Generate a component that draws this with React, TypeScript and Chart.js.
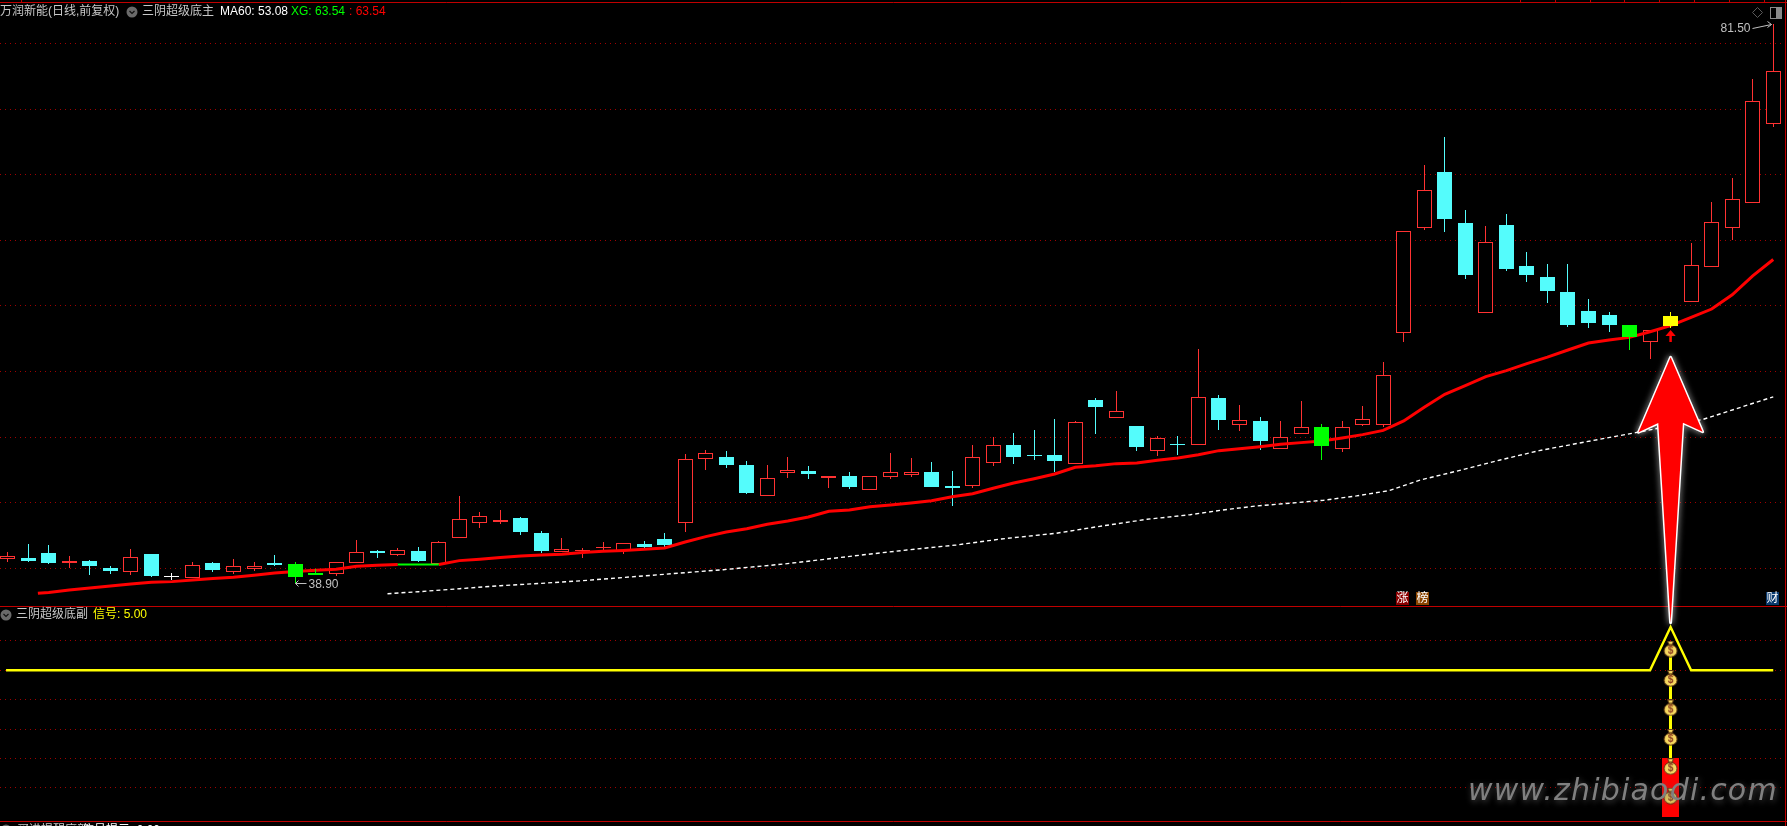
import React, { useEffect, useRef } from "react";
import { Chart, registerables } from "chart.js";

Chart.register(...registerables);

const opens = [40.75,40.80,41.18,40.44,40.57,40.04,39.76,41.10,39.43,39.30,40.42,39.76,39.99,40.42,40.34,39.66,39.61,40.44,41.33,41.05,41.33,40.34,42.35,43.49,43.57,43.85,42.70,41.26,41.31,41.58,41.33,41.87,42.25,43.49,48.32,48.50,47.89,45.55,47.30,47.43,46.92,47.05,46.01,47.00,47.15,47.35,46.29,46.31,48.06,49.41,48.65,48.65,47.99,52.84,51.49,50.86,48.98,49.46,49.43,52.99,50.96,51.24,49.13,50.25,50.78,49.13,50.96,50.96,57.97,65.97,70.21,66.32,59.49,66.17,63.05,62.21,61.07,59.62,59.31,58.55,57.28,59.24,60.33,63.00,65.97,67.87,73.89];
const closes = [40.95,40.57,40.42,40.57,40.19,39.81,40.85,39.43,39.37,40.24,39.89,40.19,40.19,40.27,39.35,39.50,40.47,41.23,41.18,41.38,40.57,41.99,43.75,43.97,43.70,42.78,41.33,41.46,41.38,41.61,41.92,41.64,41.79,48.32,48.77,47.89,45.75,46.87,47.48,47.20,47.05,46.21,47.02,47.33,47.33,46.21,46.16,48.47,49.38,48.50,48.57,48.19,51.14,52.30,51.97,49.26,49.92,49.40,53.04,51.31,51.29,49.71,49.99,50.76,49.33,50.76,51.37,54.72,65.69,68.81,66.63,62.36,64.85,62.82,62.36,61.14,58.55,58.70,58.55,57.64,58.17,58.47,63.10,66.37,68.13,75.59,77.88];
const highs = [41.26,41.87,41.79,40.95,40.65,40.19,41.49,41.10,39.66,40.50,40.50,40.72,40.50,41.03,40.50,39.96,40.47,42.17,41.41,41.56,41.64,42.10,45.52,44.30,44.46,43.92,42.86,42.32,41.56,42.02,41.92,42.10,42.70,48.72,49.03,48.95,48.19,47.89,48.50,47.81,47.05,47.35,47.02,48.80,48.42,48.11,47.43,49.38,50.02,50.32,50.55,51.39,51.24,52.99,53.52,50.86,50.10,50.10,56.72,53.22,52.46,51.54,51.24,52.76,51.01,51.24,52.38,55.73,65.69,70.74,72.88,67.31,66.07,67.01,64.11,63.20,63.20,60.53,59.54,58.55,58.17,59.54,64.80,67.92,69.75,77.29,81.50];
const lows = [40.52,40.50,40.37,40.04,39.53,39.61,39.53,39.35,39.12,39.30,39.73,39.61,39.83,40.22,38.90,39.50,39.43,40.44,40.80,40.95,40.50,40.34,42.35,43.11,43.39,42.55,41.18,41.26,40.80,41.41,41.13,41.54,41.64,42.81,47.50,47.66,45.68,45.55,46.90,46.82,46.13,46.06,46.01,46.82,46.97,46.21,44.76,46.13,47.81,47.96,48.27,47.35,47.99,50.25,51.49,48.95,48.57,48.65,49.43,50.55,50.48,49.03,49.13,50.25,48.27,48.88,50.86,50.78,57.28,65.79,65.64,62.06,59.49,62.67,61.83,60.23,58.40,58.32,58.02,56.65,55.96,58.32,60.33,63.00,65.03,67.87,73.63];

// Candles drawn in a signal colour rather than by direction
const greenCandles = [14, 15, 64, 79];
const whiteCandles = [8];
const yellowCandles = [81];

// Thick red average: candle index 2..86 (null where the green stretch replaces it)
const maFirstIndex = 1.47;
const maFirstValue = 38.11;
const maValues = [38.18,38.36,38.51,38.67,38.82,38.95,39.00,39.12,39.23,39.33,39.48,39.66,39.78,39.86,39.94,40.17,40.24,40.30,null,40.30,40.60,40.70,40.83,40.95,41.03,41.08,41.21,41.31,41.38,41.46,41.56,42.02,42.43,42.78,43.03,43.37,43.62,43.92,44.36,44.46,44.71,44.84,44.99,45.17,45.47,45.70,46.11,46.51,46.84,47.20,47.71,47.83,47.99,48.04,48.24,48.42,48.67,48.98,49.13,49.28,49.46,49.59,49.71,49.94,50.20,50.52,51.24,52.28,53.27,53.93,54.62,55.08,55.61,56.11,56.65,57.18,57.41,57.61,58.04,58.50,59.14,59.77,60.85,62.29,63.54];
const greenStretchIndex = [19, 21];
const greenStretchValue = [40.30, 40.30];

const ma60Index = [18.5,20,22,24,26,28,34.85,37.8,39.9,41.9,43.8,46.2,48.4,51.05,53.1,55.5,57.6,59.2,60.8,62.5,64.1,65.7,67.3,68.8,70.8,72.7,74.6,76.9,79.3,82.6,86];
const ma60Values = [38.08,38.23,38.46,38.69,38.87,39.07,39.91,40.34,40.72,41.08,41.41,41.79,42.25,42.68,43.19,43.75,44.10,44.46,44.76,44.98,45.20,45.53,45.94,46.74,47.50,48.27,48.98,49.66,50.35,51.37,53.08];

const priceTicks = [40,45,50,55,60,65,70,75,80];
const signalTicks = [1,2,3,4,5,6];

// Lower pane
const signalIndex = [-0.08, 80, 81, 82, 86];
const signalValues = [5, 5, 6.47, 5, 5];
const stickIndex = 81;
const stickRange = [2, 5.72];
const redBarRange = [0, 2];
const bagValues = [5.72, 4.72, 3.72, 2.72, 1.72, 0.72];

// Annotation arrows, in (candle index, price)
const bigArrowIndex = [81.0, 82.56, 81.6, 81.0, 80.4, 79.44];
const bigArrowValue = [56.09, 50.42, 51.11, 35.87, 51.08, 50.38];
const smallArrowIndex = [81.0, 81.25, 81.06, 81.06, 80.94, 80.94, 80.75];
const smallArrowValue = [58.17, 57.71, 57.71, 57.26, 57.26, 57.71, 57.71];

const lowLabel = "38.90";
const highLabel = "81.50";
const lowIndex = 14;
const highIndex = 86;

const RED = "#ff3232";
const CYAN = "#54fcfc";
const GREEN = "#00ff00";
const YELLOW = "#ffff00";
const FRAME = "#c00000";
const GRID = "#a00000";
const FONT = '12px "Liberation Sans","Noto Sans CJK SC",sans-serif';

const W = 1787;
const H = 826;

function makeBag(): HTMLCanvasElement {
  const c = document.createElement("canvas");
  c.width = 15;
  c.height = 17;
  const g = c.getContext("2d")!;
  g.fillStyle = "#f6d860";
  g.strokeStyle = "#5a3410";
  g.lineWidth = 1;
  g.beginPath();
  g.moveTo(4.5, 0.5);
  g.lineTo(10.5, 0.5);
  g.lineTo(9, 4);
  g.lineTo(6, 4);
  g.closePath();
  g.fill();
  g.stroke();
  g.beginPath();
  g.ellipse(7.5, 10.2, 6.5, 6, 0, 0, Math.PI * 2);
  g.fill();
  g.stroke();
  g.fillStyle = "#8a3a20";
  g.font = 'bold 10px "Liberation Sans"';
  g.textAlign = "center";
  g.textBaseline = "middle";
  g.fillText("$", 7.5, 10.5);
  return c;
}

function polygon(chart: any, xs: number[], ys: number[]) {
  const { ctx, scales } = chart;
  ctx.beginPath();
  xs.forEach((x, i) => {
    const px = scales.x.getPixelForValue(x);
    const py = scales.y.getPixelForValue(ys[i]);
    if (i === 0) ctx.moveTo(px, py);
    else ctx.lineTo(px, py);
  });
  ctx.closePath();
}

const snapPlugin = {
  id: "snap",
  afterDatasetsUpdate(chart: any) {
    chart.data.datasets.forEach((ds: any, i: number) => {
      if (ds.type !== "bar") return;
      chart.getDatasetMeta(i).data.forEach((el: any) => {
        el.x = Math.floor(el.x) + 0.5;
        el.y = Math.round(el.y);
        el.base = Math.round(el.base);
        if (el.y === el.base) el.base = el.y + 1;
      });
    });
  },
};

const framePlugin = {
  id: "frame",
  beforeDatasetsDraw(chart: any) {
    const { ctx } = chart;
    ctx.save();
    ctx.strokeStyle = FRAME;
    ctx.lineWidth = 1;
    ctx.beginPath();
    [2.5, 606.5, 821.5].forEach((y) => {
      ctx.moveTo(0, y);
      ctx.lineTo(W, y);
    });
    ctx.moveTo(1785.5, 0);
    ctx.lineTo(1785.5, H);
    [21, 1520, 1555, 1590, 1624, 1659, 1694, 1729, 1764].forEach((x) => {
      ctx.moveTo(x + 0.5, 0);
      ctx.lineTo(x + 0.5, 2);
    });
    ctx.stroke();
    ctx.restore();
  },
};

const arrowPlugin = {
  id: "arrows",
  afterDatasetsDraw(chart: any) {
    const { ctx } = chart;
    ctx.save();
    ctx.fillStyle = "#ff0000";
    polygon(chart, smallArrowIndex, smallArrowValue);
    ctx.fill();
    ctx.lineJoin = "round";
    ctx.shadowColor = "rgba(255,255,255,0.8)";
    ctx.shadowBlur = 6;
    polygon(chart, bigArrowIndex, bigArrowValue);
    ctx.strokeStyle = "#ffffff";
    ctx.lineWidth = 3;
    ctx.stroke();
    ctx.shadowBlur = 0;
    ctx.fill();
    ctx.restore();
  },
};

function text(ctx: any, s: string, x: number, y: number, color: string) {
  ctx.fillStyle = color;
  ctx.fillText(s, x, y);
}

function roundIcon(ctx: any, x: number, y: number) {
  ctx.fillStyle = "#6a6a6a";
  ctx.beginPath();
  ctx.arc(x, y, 5.5, 0, Math.PI * 2);
  ctx.fill();
  ctx.strokeStyle = "#101010";
  ctx.lineWidth = 1.2;
  ctx.beginPath();
  ctx.moveTo(x - 2.5, y - 1);
  ctx.lineTo(x, y + 1.5);
  ctx.lineTo(x + 2.5, y - 1);
  ctx.stroke();
}

function badge(ctx: any, s: string, x: number, y: number, bg: string) {
  ctx.fillStyle = bg;
  ctx.fillRect(x, y, 13, 13);
  ctx.textAlign = "center";
  ctx.fillStyle = "#ffffff";
  ctx.fillText(s, x + 6.5, y + 7);
  ctx.textAlign = "left";
}

const labelPlugin = {
  id: "labels",
  afterDraw(chart: any) {
    const { ctx, scales } = chart;
    ctx.save();
    ctx.font = FONT;
    ctx.textBaseline = "middle";
    ctx.textAlign = "left";

    text(ctx, "万润新能(日线,前复权)", 0, 12, "#c8c8c8");
    roundIcon(ctx, 132, 12);
    text(ctx, "三阴超级底主", 142, 12, "#c8c8c8");
    text(ctx, "MA60: 53.08", 220, 12, "#ffffff");
    text(ctx, "XG: 63.54", 291, 12, "#00ff00");
    text(ctx, ": 63.54", 349, 12, "#ff0000");

    roundIcon(ctx, 6, 615);
    text(ctx, "三阴超级底副", 16, 615, "#c8c8c8");
    text(ctx, "信号: 5.00", 93, 615, "#ffff00");

    roundIcon(ctx, 6, 830);
    text(ctx, "买进提醒底部", 17, 831, "#c8c8c8");
    text(ctx, "信号提示: 0.00", 82, 831, "#ffffff");

    badge(ctx, "涨", 1396, 592, "#8b0000");
    badge(ctx, "榜", 1416, 592, "#8b4500");
    badge(ctx, "财", 1766, 592, "#0a3a6e");

    // low / high callouts
    ctx.strokeStyle = "#c0c0c0";
    ctx.lineWidth = 1;
    const lx = Math.floor(scales.x.getPixelForValue(lowIndex)) + 0.5;
    const ly = Math.round(scales.y.getPixelForValue(38.9)) + 0.5;
    ctx.beginPath();
    ctx.moveTo(lx + 11, ly);
    ctx.lineTo(lx, ly);
    ctx.moveTo(lx + 3, ly - 3);
    ctx.lineTo(lx, ly);
    ctx.lineTo(lx + 3, ly + 3);
    ctx.stroke();
    text(ctx, lowLabel, lx + 13, ly + 1, "#c0c0c0");

    const hx = Math.floor(scales.x.getPixelForValue(highIndex)) + 0.5;
    const hy = Math.round(scales.y.getPixelForValue(81.5)) + 0.5;
    ctx.beginPath();
    ctx.moveTo(hx - 21, hy + 4);
    ctx.lineTo(hx - 2, hy);
    ctx.moveTo(hx - 6, hy - 3);
    ctx.lineTo(hx - 2, hy);
    ctx.lineTo(hx - 6, hy + 3);
    ctx.stroke();
    ctx.textAlign = "right";
    text(ctx, highLabel, hx - 23, hy + 4, "#c0c0c0");
    ctx.textAlign = "left";

    // corner icons
    ctx.strokeStyle = "#5a5a5a";
    ctx.beginPath();
    ctx.moveTo(1757.5, 7.5);
    ctx.lineTo(1762.5, 12.5);
    ctx.lineTo(1757.5, 17.5);
    ctx.lineTo(1752.5, 12.5);
    ctx.closePath();
    ctx.stroke();
    ctx.strokeStyle = "#8a8a8a";
    ctx.strokeRect(1770.5, 7.5, 11, 11);
    ctx.fillStyle = "#8a8a8a";
    ctx.fillRect(1776, 8, 5, 10);

    // site watermark
    ctx.font = 'oblique 30px "DejaVu Sans"';
    if ("letterSpacing" in ctx) ctx.letterSpacing = "1.2px";
    ctx.textBaseline = "alphabetic";
    ctx.shadowColor = "rgba(90,90,90,0.8)";
    ctx.shadowBlur = 6;
    ctx.shadowOffsetX = 1;
    ctx.shadowOffsetY = 2;
    text(ctx, "www.zhibiaodi.com", 1468, 800, "#808080");
    ctx.restore();
  },
};

const scaleBase = (ticks: number[], min: number, max: number) => ({
  type: "linear",
  position: "left",
  min,
  max,
  afterBuildTicks: (axis: any) => {
    axis.ticks = ticks.map((value) => ({ value }));
  },
  ticks: { display: false, autoSkip: false },
  grid: { color: GRID, drawTicks: false, lineWidth: 1 },
  border: { display: false, dash: [1, 4] },
});

export default function App() {
  const ref = useRef<HTMLCanvasElement>(null);

  useEffect(() => {
    document.body.style.margin = "0";
    document.body.style.background = "#000";
    document.body.style.overflow = "hidden";

    const n = opens.length;
    const all = Array.from({ length: n }, (_, i) => i);
    const special = new Set([...greenCandles, ...whiteCandles, ...yellowCandles]);
    const plain = all.filter((i) => !special.has(i));
    const isUp = (i: number) => closes[i] >= opens[i];
    const markerColor = (i: number) =>
      whiteCandles.includes(i) ? "#ffffff" : yellowCandles.includes(i) ? YELLOW : GREEN;
    const markers = all.filter((i) => special.has(i));

    const barCommon = {
      type: "bar",
      grouped: false,
      borderSkipped: false,
      inflateAmount: 0,
      yAxisID: "y",
    };

    const chart = new Chart(ref.current!, {
      type: "bar",
      data: {
        datasets: [
          {
            ...barCommon,
            label: "影线",
            order: 90,
            barThickness: 1,
            data: plain.map((i) => ({ x: i, y: [lows[i], highs[i]] })),
            backgroundColor: plain.map((i) => (isUp(i) ? RED : CYAN)),
            borderWidth: 0,
          },
          {
            ...barCommon,
            label: "K线",
            order: 80,
            barThickness: 15,
            data: plain.map((i) => ({ x: i, y: [opens[i], closes[i]] })),
            backgroundColor: plain.map((i) => (isUp(i) ? "#000000" : CYAN)),
            borderColor: plain.map((i) => (isUp(i) ? RED : CYAN)),
            borderWidth: 1,
          },
          {
            type: "line",
            label: "均线",
            order: 70,
            yAxisID: "y",
            data: [
              { x: maFirstIndex, y: maFirstValue },
              ...maValues.map((y, k) => ({ x: k + 2, y })),
            ],
            borderColor: "#ff0000",
            borderWidth: 3,
            pointRadius: 0,
            tension: 0,
            spanGaps: false,
          },
          {
            type: "line",
            label: "转绿",
            order: 69,
            yAxisID: "y",
            data: greenStretchIndex.map((x, k) => ({ x, y: greenStretchValue[k] })),
            borderColor: GREEN,
            borderWidth: 2,
            pointRadius: 0,
          },
          {
            type: "line",
            label: "MA60",
            order: 68,
            yAxisID: "y",
            data: ma60Index.map((x, k) => ({ x, y: ma60Values[k] })),
            borderColor: "#ffffff",
            borderWidth: 1.4,
            borderDash: [4, 3],
            pointRadius: 0,
            tension: 0,
          },
          {
            ...barCommon,
            label: "信号影线",
            order: 60,
            barThickness: 1,
            data: markers.map((i) => ({ x: i, y: [lows[i], highs[i]] })),
            backgroundColor: markers.map(markerColor),
            borderWidth: 0,
          },
          {
            ...barCommon,
            label: "信号K线",
            order: 59,
            barThickness: 15,
            data: markers.map((i) => ({ x: i, y: [opens[i], closes[i]] })),
            backgroundColor: markers.map(markerColor),
            borderWidth: 0,
          },
          {
            ...barCommon,
            label: "底柱",
            order: 50,
            yAxisID: "y2",
            barThickness: 17,
            data: [{ x: stickIndex, y: redBarRange }],
            backgroundColor: "#ff0000",
            borderWidth: 0,
          },
          {
            ...barCommon,
            label: "竖线",
            order: 49,
            yAxisID: "y2",
            barThickness: 3,
            data: [{ x: stickIndex, y: stickRange }],
            backgroundColor: YELLOW,
            borderWidth: 0,
          },
          {
            type: "line",
            label: "信号",
            order: 48,
            yAxisID: "y2",
            data: signalIndex.map((x, k) => ({ x, y: signalValues[k] })),
            borderColor: YELLOW,
            borderWidth: 2.4,
            pointRadius: 0,
            tension: 0,
          },
          {
            type: "line",
            label: "钱袋",
            order: 47,
            yAxisID: "y2",
            showLine: false,
            data: bagValues.map((y) => ({ x: stickIndex, y })),
            pointStyle: makeBag() as any,
            pointRadius: 7,
          },
        ] as any,
      },
      options: {
        responsive: false,
        animation: false,
        events: [],
        layout: { padding: 0, autoPadding: false },
        plugins: {
          legend: { display: false },
          tooltip: { enabled: false },
          title: { display: false },
        },
        scales: {
          x: { type: "linear", display: false, min: -0.375, max: 86.67, offset: false },
          y: scaleBase(priceTicks, 20.381, 83.314),
          y2: scaleBase(signalTicks, -0.296, 27.8),
        } as any,
      },
      plugins: [snapPlugin, framePlugin, arrowPlugin, labelPlugin],
    } as any);

    return () => chart.destroy();
  }, []);

  return (
    <div style={{ position: "fixed", left: 0, top: 0, width: W, height: H, background: "#000" }}>
      <canvas ref={ref} width={W} height={H} style={{ display: "block", width: W, height: H }} />
    </div>
  );
}
